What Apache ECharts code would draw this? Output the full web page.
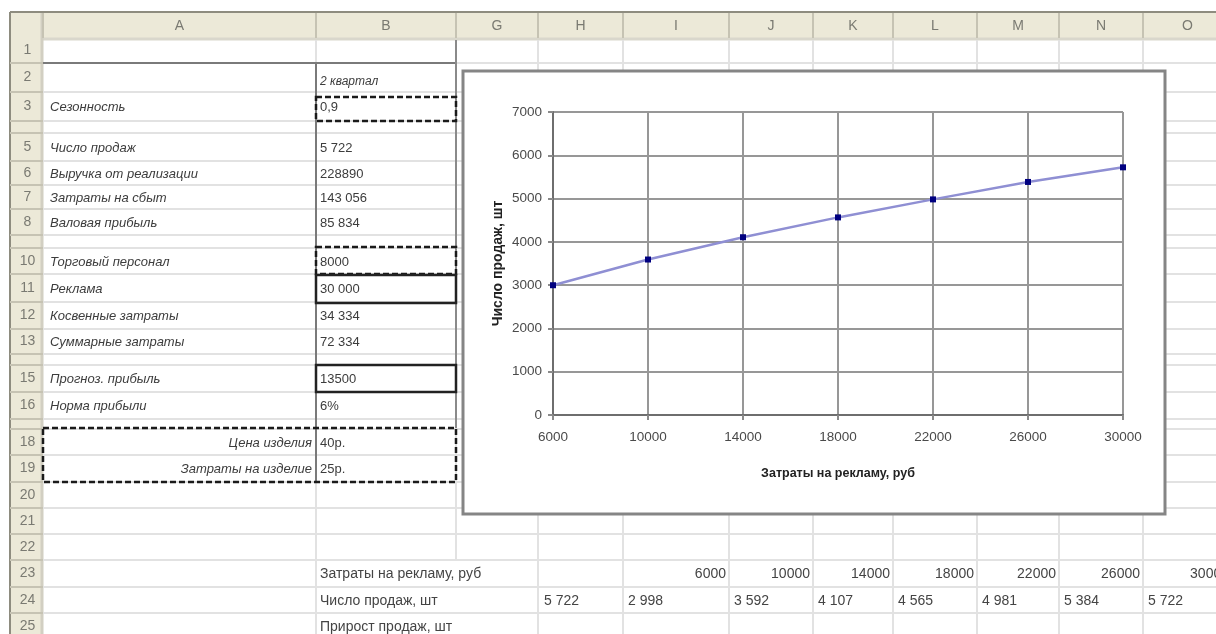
<!DOCTYPE html>
<html>
<head>
<meta charset="utf-8">
<script src="https://cdn.jsdelivr.net/npm/echarts@6/dist/echarts.min.js"></script>
<style>
  html, body { margin: 0; padding: 0; background: #ffffff; }
  #chart { width: 1216px; height: 634px; }
</style>
</head>
<body>
<div id="chart"></div>
<script>
// ---- chart data ----
const adCosts = ['6000', '10000', '14000', '18000', '22000', '26000', '30000'];
const salesUnits = [2998, 3592, 4107, 4565, 4981, 5384, 5722];
const yMin = 0, yMax = 7000, yStep = 1000;
const xTitle = 'Затраты на рекламу, руб';
const yTitle = 'Число продаж, шт';

// ---- worksheet content ----
const columnLetters = ['A', 'B', 'G', 'H', 'I', 'J', 'K', 'L', 'M', 'N', 'O'];
const rowNumbers = [1, 2, 3, 4, 5, 6, 7, 8, 9, 10, 11, 12, 13, 14, 15, 16, 17, 18, 19, 20, 21, 22, 23, 24, 25];
const labelRows = [3, 5, 6, 7, 8, 10, 11, 12, 13, 15, 16, 18, 19];
const labelTexts = ['Сезонность', 'Число продаж', 'Выручка от реализации', 'Затраты на сбыт',
  'Валовая прибыль', 'Торговый персонал', 'Реклама', 'Косвенные затраты', 'Суммарные затраты',
  'Прогноз. прибыль', 'Норма прибыли', 'Цена изделия', 'Затраты на изделие'];
const valueRows = [2, 3, 5, 6, 7, 8, 10, 11, 12, 13, 15, 16, 18, 19];
const valueTexts = ['2 квартал', '0,9', '5 722', '228890', '143 056', '85 834', '8000', '30 000',
  '34 334', '72 334', '13500', '6%', '40р.', '25р.'];
const tableCaptions = ['Затраты на рекламу, руб', 'Число продаж, шт', 'Прирост продаж, шт'];
const currentSales = '5 722';

// ---- worksheet geometry ----
const colEdges = { hdr: [10, 43], A: [43, 316], B: [316, 456], G: [456, 538], H: [538, 623],
  I: [623, 729], J: [729, 813], K: [813, 893], L: [893, 977], M: [977, 1059], N: [1059, 1143], O: [1143, 1232] };
// row number -> [top, height]
const rowGeom = { 1: [38, 25], 2: [63, 29], 3: [92, 29], 4: [121, 12], 5: [133, 28], 6: [161, 24],
  7: [185, 24], 8: [209, 26], 9: [235, 13], 10: [248, 26], 11: [274, 28], 12: [302, 27], 13: [329, 25],
  14: [354, 11], 15: [365, 27], 16: [392, 27], 17: [419, 10], 18: [429, 26], 19: [455, 27], 20: [482, 26],
  21: [508, 26], 22: [534, 26], 23: [560, 27], 24: [587, 26], 25: [613, 26] };
const HDR_TOP = 12, HDR_BOT = 38, W = 1216, H = 634;
const FONT = '"Liberation Sans", Arial, sans-serif';
const headerFill = '#ece9d8', headerLine = '#c6c3b3', headerEdge = '#8e8c7f';
const gridColor = '#e2e2e2', textColor = '#3c3c3c';

const els = [];
function line(x1, y1, x2, y2, stroke, w, z, dash) {
  els.push({ type: 'line', silent: true, z: z,
    shape: { x1: x1, y1: y1, x2: x2, y2: y2 },
    style: { stroke: stroke, lineWidth: w, lineDash: dash || null } });
}
function box(x, y, w, h, fill, stroke, lw, z, dash) {
  els.push({ type: 'rect', silent: true, z: z,
    shape: { x: x, y: y, width: w, height: h },
    style: { fill: fill || 'none', stroke: stroke || 'none', lineWidth: lw || 0, lineDash: dash || null } });
}
function label(x, y, str, font, fill, align, z) {
  els.push({ type: 'text', silent: true, z: z || 3, x: x, y: y,
    style: { text: str, font: font, fill: fill, textAlign: align || 'left', textVerticalAlign: 'middle' } });
}
function rowMid(r) { return rowGeom[r][0] + rowGeom[r][1] / 2; }

const left = colEdges.hdr[0];
// header band and row-number column
box(left, HDR_TOP, W - left, HDR_BOT - HDR_TOP, headerFill, null, 0, 1);
line(left, HDR_BOT + 1, W, HDR_BOT + 1, '#d9d7cc', 3, 1);
box(left, HDR_TOP, colEdges.hdr[1] - left, H - HDR_TOP, headerFill, null, 0, 1);
line(colEdges.hdr[1] - 1, HDR_TOP, colEdges.hdr[1] - 1, H, '#d2cfc2', 3, 1);
line(left, HDR_TOP, W, HDR_TOP, headerEdge, 2, 2);
line(left, HDR_TOP, left, H, headerEdge, 2, 2);

// cell gridlines
rowNumbers.forEach(function (r) {
  const yb = rowGeom[r][0] + rowGeom[r][1];
  line(colEdges.hdr[1], yb, W, yb, gridColor, 2, 1);
  line(left, yb, colEdges.hdr[1], yb, headerLine, 2, 2);
});
columnLetters.forEach(function (c) {
  const xr = colEdges[c][1];
  // text in column B overflows into G from row 23 down
  const bottom = c === 'B' ? rowGeom[23][0] : H;
  line(xr, HDR_BOT + 2, xr, bottom, gridColor, 2, 1);
  line(xr, HDR_TOP + 1, xr, HDR_BOT, headerLine, 2, 2);
  label((colEdges[c][0] + colEdges[c][1]) / 2, 26, c, '14px ' + FONT, '#7a7a72', 'center', 3);
});
line(colEdges.hdr[1], HDR_TOP + 1, colEdges.hdr[1], HDR_BOT, headerLine, 2, 2);

// row numbers (shallow spacer rows show no number)
rowNumbers.forEach(function (r) {
  if (rowGeom[r][1] < 20) return;
  label((colEdges.hdr[0] + colEdges.hdr[1]) / 2 + 1, rowMid(r), String(r), '14px ' + FONT, '#7a7a72', 'center', 3);
});

// darker cell borders around the input block
line(colEdges.A[0], 63, colEdges.B[1], 63, '#7a7a7a', 2, 2);
line(colEdges.B[0], 63, colEdges.B[0], 482, '#7a7a7a', 2, 2);
line(colEdges.B[1], 40, colEdges.B[1], 428, '#8a8a8a', 2, 2);

// copy-marquee dashed borders and thick selection boxes
box(colEdges.B[0], 97, colEdges.B[1] - colEdges.B[0], 24, null, '#1a1a1a', 2.5, 4, [6, 3]);
box(colEdges.B[0], 247, colEdges.B[1] - colEdges.B[0], 27, null, '#1a1a1a', 2.5, 4, [6, 3]);
box(colEdges.A[0], 428, colEdges.B[1] - colEdges.A[0], 54, null, '#1a1a1a', 2.5, 4, [6, 3]);
box(colEdges.B[0], 275, colEdges.B[1] - colEdges.B[0], 28, null, '#222222', 2.5, 4);
box(colEdges.B[0], 365, colEdges.B[1] - colEdges.B[0], 27, null, '#222222', 2.5, 4);

// column A captions (last two right-aligned)
labelRows.forEach(function (r, i) {
  const right = r >= 18;
  label(right ? colEdges.A[1] - 4 : colEdges.A[0] + 7, rowMid(r) + 1, labelTexts[i],
    'italic 13px ' + FONT, textColor, right ? 'right' : 'left', 3);
});
// column B values
valueRows.forEach(function (r, i) {
  label(colEdges.B[0] + 4, rowMid(r) + (r === 2 ? 4 : 1), valueTexts[i],
    (r === 2 ? 'italic 12px ' : '13px ') + FONT, textColor, 'left', 3);
});
// data table under the chart
const tableFont = '14px ' + FONT;
tableCaptions.forEach(function (t, i) {
  label(colEdges.B[0] + 4, rowMid(23 + i) + 1, t, tableFont, '#444444', 'left', 3);
});
const dataCols = ['I', 'J', 'K', 'L', 'M', 'N', 'O'];
function groupThousands(v) { return String(v).replace(/\B(?=(\d{3})+(?!\d))/g, ' '); }
dataCols.forEach(function (c, i) {
  label(colEdges[c][1] - 3, rowMid(23) + 1, adCosts[i], tableFont, '#444444', 'right', 3);
  label(colEdges[c][0] + 5, rowMid(24) + 1, groupThousands(salesUnits[i]), tableFont, '#444444', 'left', 3);
});
label(colEdges.H[0] + 6, rowMid(24) + 1, currentSales, tableFont, '#444444', 'left', 3);

// embedded chart frame
box(463, 71, 702, 443, '#ffffff', '#858585', 3, 6);

const chart = echarts.init(document.getElementById('chart'), null, { renderer: 'canvas' });
const axisLabelStyle = { fontSize: 13.5, color: '#4a4a4a', fontFamily: FONT };
chart.setOption({
  animation: false,
  backgroundColor: '#ffffff',
  graphic: { elements: els },
  grid: { left: 553, top: 112, width: 570, height: 303 },
  xAxis: {
    type: 'category', data: adCosts, boundaryGap: false, z: 10,
    axisLine: { lineStyle: { color: '#6e6e6e', width: 2 } },
    axisTick: { show: true, length: 5, lineStyle: { color: '#8a8a8a', width: 2 } },
    axisLabel: Object.assign({ margin: 15 }, axisLabelStyle),
    splitLine: { show: true, lineStyle: { color: '#979797', width: 2 } },
    name: xTitle, nameLocation: 'middle', nameGap: 52,
    nameTextStyle: { fontSize: 12.5, fontWeight: 'bold', color: '#222222', fontFamily: FONT }
  },
  yAxis: {
    type: 'value', min: yMin, max: yMax, interval: yStep, z: 10,
    axisLine: { show: true, lineStyle: { color: '#6e6e6e', width: 2 } },
    axisTick: { show: true, length: 5, lineStyle: { color: '#8a8a8a', width: 2 } },
    axisLabel: Object.assign({ margin: 11, formatter: function (v) { return String(v); } }, axisLabelStyle),
    splitLine: { show: true, lineStyle: { color: '#979797', width: 2 } },
    name: yTitle, nameLocation: 'middle', nameGap: 48,
    nameTextStyle: { fontSize: 14, fontWeight: 'bold', color: '#222222', fontFamily: FONT }
  },
  series: [{
    type: 'line', data: salesUnits, z: 12,
    symbol: 'rect', symbolSize: 6,
    itemStyle: { color: '#000080' },
    lineStyle: { color: '#8f8fd3', width: 2.5 }
  }]
});
</script>
</body>
</html>
